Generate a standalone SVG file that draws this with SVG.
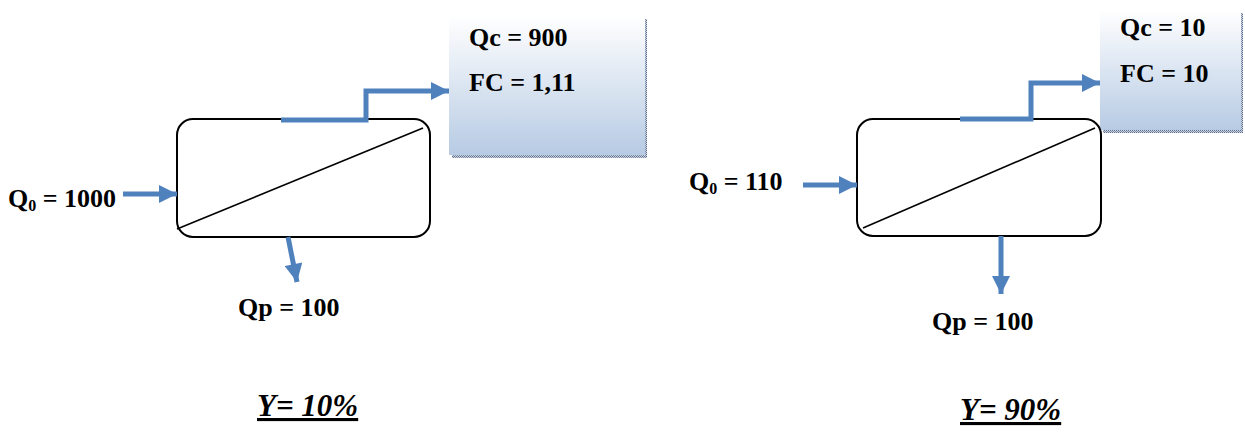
<svg xmlns="http://www.w3.org/2000/svg" width="1245" height="434" viewBox="0 0 1245 434">
  <defs>
    <linearGradient id="boxFill" x1="0" y1="0" x2="0" y2="1">
      <stop offset="0" stop-color="#ffffff"/>
      <stop offset="1" stop-color="#b7cbe4"/>
    </linearGradient>
    <pattern id="shadowDots" width="2" height="2" patternUnits="userSpaceOnUse">
      <rect width="2" height="2" fill="#c9d2e0"/>
      <rect width="1" height="1" fill="#5f6f8a"/>
      <rect x="1" y="1" width="1" height="1" fill="#7f8ea8"/>
    </pattern>
    <marker id="head" viewBox="0 0 10 10" refX="10" refY="5" markerWidth="4" markerHeight="3.6" markerUnits="strokeWidth" orient="auto">
      <path d="M0,0 L10,5 L0,10 Z" fill="#4f81bd"/>
    </marker>
    <style>
      .unit { fill: #ffffff; stroke: #000000; stroke-width: 2; }
      .membrane { stroke: #000000; stroke-width: 1.6; fill: none; }
      .flowArrow { stroke: #4f81bd; stroke-width: 5; fill: none; marker-end: url(#head); }
      .lbl { font-family: "Liberation Serif", "Times New Roman", serif; font-weight: bold; font-size: 26px; fill: #000000; }
      .sub { font-size: 16px; }
      .yield { font-family: "Liberation Serif", "Times New Roman", serif; font-weight: bold; font-style: italic; font-size: 31px; fill: #000000; text-decoration: underline; }
    </style>
  </defs>

  <!-- concentrate result boxes -->
  <g id="concentrate-left">
    <rect x="452" y="19" width="195" height="139" fill="url(#shadowDots)"/>
    <rect x="449" y="16" width="196" height="139" fill="url(#boxFill)"/>
    <text class="lbl" x="469" y="46">Qc = 900</text>
    <text class="lbl" x="469" y="91">FC = 1,11</text>
  </g>
  <g id="concentrate-right">
    <rect x="1103" y="13" width="140" height="120" fill="url(#shadowDots)"/>
    <rect x="1100" y="10" width="141" height="120" fill="url(#boxFill)"/>
    <text class="lbl" x="1120" y="36">Qc = 10</text>
    <text class="lbl" x="1120" y="82">FC = 10</text>
  </g>

  <!-- membrane modules -->
  <g id="module-left">
    <rect class="unit" x="177" y="119" width="253" height="118" rx="16" ry="16"/>
    <line class="membrane" x1="177" y1="229" x2="423" y2="128"/>
  </g>
  <g id="module-right">
    <rect class="unit" x="857" y="119" width="244" height="117" rx="16" ry="16"/>
    <line class="membrane" x1="863" y1="228" x2="1095" y2="128"/>
  </g>

  <!-- flow connectors -->
  <g id="connectors">
    <line class="flowArrow" x1="123" y1="194" x2="177" y2="194"/>
    <polyline class="flowArrow" points="281,120 366,120 366,91 449,91"/>
    <line class="flowArrow" x1="288" y1="237" x2="297" y2="282"/>

    <line class="flowArrow" x1="803" y1="185" x2="857" y2="185"/>
    <polyline class="flowArrow" points="960,119 1031,119 1031,83 1100,83"/>
    <line class="flowArrow" x1="1001" y1="236" x2="1001" y2="294"/>
  </g>

  <!-- flow labels -->
  <g id="labels">
    <text class="lbl" x="8" y="207">Q<tspan class="sub" dy="4">0</tspan><tspan dy="-4"> = 1000</tspan></text>
    <text class="lbl" x="238" y="316">Qp = 100</text>
    <text class="lbl" x="689" y="190">Q<tspan class="sub" dy="4">0</tspan><tspan dy="-4"> = 110</tspan></text>
    <text class="lbl" x="932" y="330">Qp = 100</text>
    <text class="yield" x="257" y="416">Y= 10%</text>
    <text class="yield" x="960" y="420">Y= 90%</text>
  </g>
</svg>
